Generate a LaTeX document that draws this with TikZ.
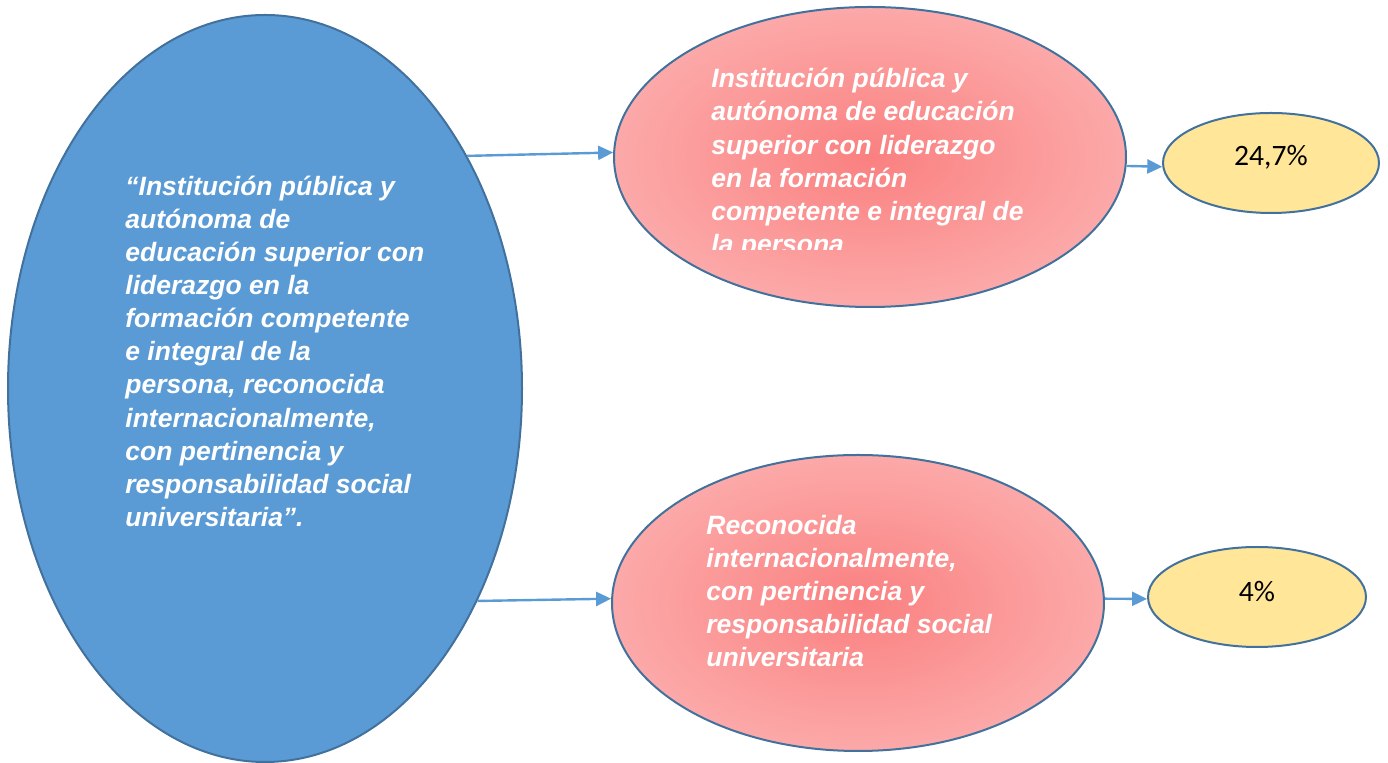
\documentclass[tikz,border=0pt]{standalone}
\usepackage{fontspec}
\setmainfont{Liberation Sans}
\newfontfamily\numfont{Carlito}
\usetikzlibrary{shapes.geometric,arrows.meta}

\definecolor{visionblue}{RGB}{91,155,213}
\definecolor{ovaledge}{RGB}{65,113,156}
\definecolor{pctyellow}{RGB}{255,230,153}
\definecolor{pinkin}{RGB}{250,128,128}
\definecolor{pinkout}{RGB}{255,210,210}
\pgfdeclareradialshading{pinkglow}{\pgfpoint{0bp}{0bp}}{color(0bp)=(pinkin); color(50bp)=(pinkout)}

\tikzset{
	oval/.style={ellipse, draw=ovaledge, line width=1pt, inner sep=0pt},
	quote/.style={anchor=north west, inner sep=0pt, align=left, text=white,
		font=\fontsize{13.25}{16.55}\selectfont\bfseries\itshape},
	pct/.style={inner sep=0pt, font=\numfont\fontsize{14.8}{17}\selectfont},
	flow/.style={draw=visionblue, line width=1.2pt, -{Triangle[length=7.5pt,width=7pt]}},
}

\begin{document}
\begin{tikzpicture}[x=0.5pt,y=-0.5pt]
				\useasboundingbox (0,0) rectangle (1388,763);
				
				\node[oval, fill=visionblue, minimum width=257pt, minimum height=373.5pt] (vision) at (265,388.5) {};
				\node[oval, shading=pinkglow, minimum width=256pt, minimum height=150pt] (liderazgo) at (870,157) {};
				\node[oval, shading=pinkglow, minimum width=246pt, minimum height=148pt] (reconocida) at (858,603) {};
				\node[oval, fill=pctyellow, minimum width=108pt, minimum height=50pt] (pctlider) at (1271,163) {};
				\node[oval, fill=pctyellow, minimum width=109pt, minimum height=50pt] (pctrecon) at (1257,597) {};
				
				\node[quote] (visiontext) at (125,175.5) {``Institución pública y\\autónoma de\\educación superior con\\liderazgo en la\\formación competente\\e integral de la\\persona, reconocida\\internacionalmente,\\con pertinencia y\\responsabilidad social\\universitaria''.};
				\begin{scope}
					\clip (600,0) rectangle (1130,250);
					\node[quote] (lidertext) at (711,68) {Institución pública y\\autónoma de educación\\superior con liderazgo\\en la formación\\competente e integral de\\la persona};
				\end{scope}
				\node[quote] (recontext) at (706,515) {Reconocida\\internacionalmente,\\con pertinencia y\\responsabilidad social\\universitaria};
				
				\node[pct] (lidervalue) at (1271,157.5) {24,7\%};
				\node[pct] (reconvalue) at (1257,591.5) {4\%};
				
				\draw[flow] (vision.49.3) -- (liderazgo.179);
				\draw[flow] (vision.-45.8) -- (reconocida.179.5);
				\draw[flow] (liderazgo.-2.2) -- (pctlider.-178);
				\draw[flow] (reconocida.1) -- (pctrecon.-179);
\end{tikzpicture}
\end{document}
